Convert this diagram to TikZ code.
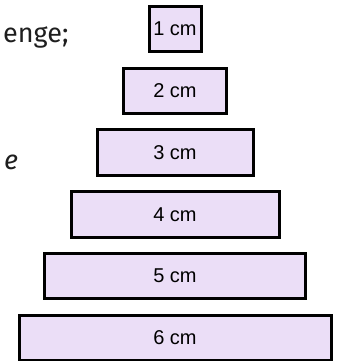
\documentclass[tikz,border=0pt]{standalone}
\usepackage{fontspec}
\setmainfont{Liberation Sans}
\newfontfamily\pagefont{Fira Sans}
\usetikzlibrary{positioning}
\definecolor{stripfill}{RGB}{235, 222, 247}
\definecolor{pagegray}{RGB}{30, 30, 30}

\begin{document}
\begin{tikzpicture}[
    x=1pt, y=-1pt,
    node distance=13.3pt,
    strip/.style={draw, line width=3pt, fill=stripfill, minimum height=45.5pt, inner sep=0pt, font=\fontsize{20}{23}\selectfont},
    pagetext/.style={font=\pagefont\fontsize{27}{31}\selectfont, text=pagegray, inner sep=0pt}
]
\useasboundingbox (0,0) rectangle (339,361);

% Strips
\node[strip, minimum width=52pt] (one) at (175,29) {1 cm};
\node[strip, minimum width=103pt, below=of one] (two) {2 cm};
\node[strip, minimum width=156pt, below=of two] (three) {3 cm};
\node[strip, minimum width=208pt, below=of three] (four) {4 cm};
\node[strip, minimum width=261pt, below=of four] (five) {5 cm};
\node[strip, minimum width=312pt, below=of five] (six) {6 cm};

% Page text
\node[pagetext, anchor=base west] (enge) at (3,43) {enge;};
\node[pagetext, anchor=base west] (letter) at (4,169) {\itshape e};

\end{tikzpicture}
\end{document}
